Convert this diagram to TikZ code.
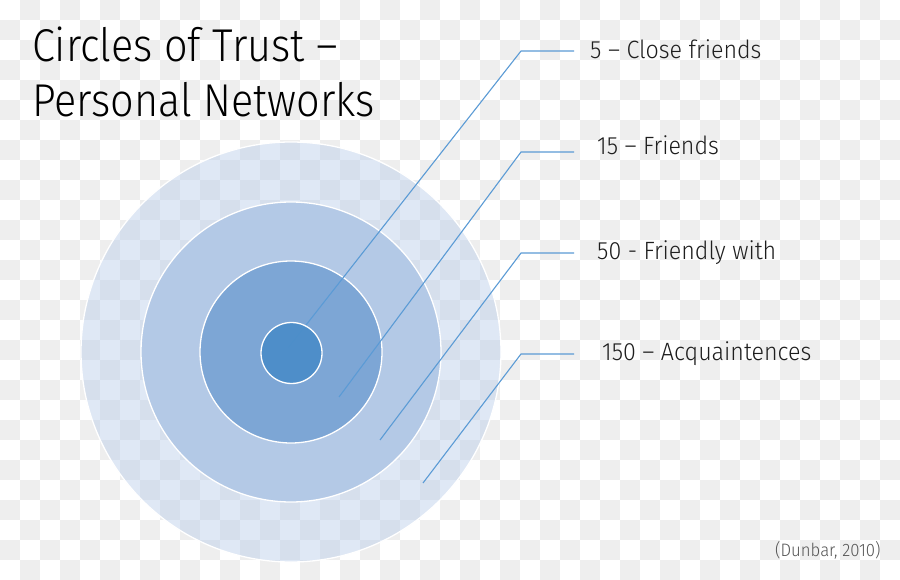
\documentclass[tikz,border=0pt]{standalone}
\usepackage{fontspec}
\setmainfont{Fira Sans Light}[FakeStretch=0.93]
\newfontfamily\titlefont{Fira Sans Light}[FakeStretch=0.9]
\definecolor{ringA}{RGB}{192,210,236}
\definecolor{ringB}{RGB}{178,200,230}
\definecolor{ringC}{RGB}{125,166,213}
\definecolor{ringD}{RGB}{75,141,200}
\definecolor{leader}{RGB}{91,155,213}
\definecolor{checker}{RGB}{238,238,238}
\definecolor{txt}{RGB}{30,30,30}
\definecolor{citegray}{RGB}{85,85,85}
\tikzset{
  ring/.style={circle, inner sep=0pt, draw=white, line width=1.3pt},
  leaderline/.style={draw=leader, line width=1.1pt},
  label/.style={anchor=base west, inner sep=0pt, text=txt, font=\fontsize{25}{30}\selectfont},
  titletext/.style={anchor=base west, inner sep=0pt, text=black, font=\titlefont\fontsize{46}{55}\selectfont}
}
\begin{document}
\begin{tikzpicture}[x=1pt,y=-1pt]
\useasboundingbox (0,0) rectangle (900,580);
\fill[white] (0,0) rectangle (900,580);
\foreach \i in {0,...,44}{
  \foreach \j in {0,...,28}{
    \ifodd\numexpr\i+\j\relax
      \fill[checker] (20*\i,20*\j) rectangle ++(20,20);
    \fi
  }
}
% circles
\node[ring, minimum size=420pt, fill=ringA, fill opacity=0.5] (c150) at (291,352) {};
\node[ring, minimum size=300pt, fill=ringB, fill opacity=0.95] (c50) at (291,352) {};
\node[ring, minimum size=182pt, fill=ringC] (c15) at (291,352) {};
% leader points
\coordinate (p5) at (288,348);
\coordinate (p15) at (339,397);
\coordinate (p50) at (380,440);
\coordinate (p150) at (423,483);
\coordinate (k5) at (521,51);
\coordinate (k15) at (521,152);
\coordinate (k50) at (521,253);
\coordinate (k150) at (521,354);
\coordinate (e5) at (574,51);
\coordinate (e15) at (574,152);
\coordinate (e50) at (574,253);
\coordinate (e150) at (574,354);
\draw[leaderline] (p5) -- (k5) -- (e5);
\draw[leaderline] (p15) -- (k15) -- (e15);
\draw[leaderline] (p50) -- (k50) -- (e50);
\draw[leaderline] (p150) -- (k150) -- (e150);
\node[ring, minimum size=61pt, fill=ringD, fill opacity=0.92] (c5) at (291.5,353) {};
% labels
\node[label] (l5) at (590,59) {5 – Close friends};
\node[label] (l15) at (597,155) {15 – Friends};
\node[label] (l50) at (597,260) {50 - Friendly with};
\node[label] (l150) at (602,360) {150 – Acquaintences};
% title
\node[titletext] (t1) at (32,62) {Circles of Trust –};
\node[titletext] (t2) at (32,117) {Personal Networks};
% citation
\node[anchor=base west, inner sep=0pt, text=citegray, font=\fontsize{18}{21}\selectfont] (cite) at (775,556) {(Dunbar, 2010)};
\end{tikzpicture}
\end{document}
